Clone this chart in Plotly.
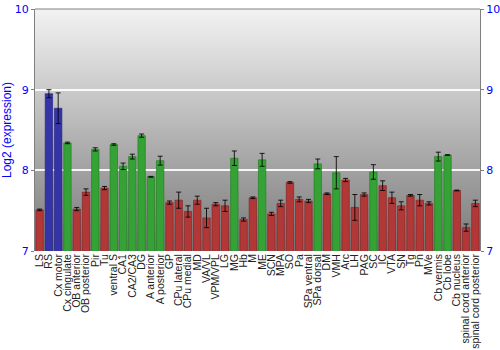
import plotly.graph_objects as go

categories = ["LS", "RS", "Cx motor", "Cx cingulate", "OB anterior", "OB posterior", "Pir", "Tu",
              "ventral S", "CA1", "CA2/CA3", "DG", "A anterior", "A posterior", "GP", "CPu lateral",
              "CPu medial", "MD", "VA/VL", "VPM/VPL", "LG", "MG", "Hb", "M", "ME", "SCN", "MPA", "SO",
              "Pa", "SPa ventral", "SPa dorsal", "DM", "VMH", "Arc", "LH", "PAG", "SC", "IC", "VTA",
              "SN", "Tg", "Pn", "MVe", "Cb vermis", "Cb lobe", "Cb nucleus", "spinal cord anterior",
              "spinal cord posterior"]
values = [7.51, 8.95, 8.77, 8.34, 7.52, 7.73, 8.26, 7.78,
          8.32, 8.05, 8.17, 8.43, 7.92, 8.12, 7.60, 7.63,
          7.49, 7.63, 7.41, 7.58, 7.56, 8.15, 7.39, 7.66, 8.13, 7.46, 7.59, 7.85,
          7.64, 7.62, 8.08, 7.71, 7.97, 7.88, 7.54, 7.70, 7.98, 7.81, 7.66,
          7.56, 7.69, 7.63, 7.59, 8.17, 8.19, 7.75, 7.29, 7.59]
errors = [0.01, 0.05, 0.19, 0.01, 0.02, 0.04, 0.02, 0.02,
          0.01, 0.04, 0.03, 0.02, 0.005, 0.055, 0.02, 0.10,
          0.07, 0.05, 0.12, 0.02, 0.07, 0.09, 0.02, 0.01, 0.08, 0.02, 0.04, 0.01,
          0.03, 0.02, 0.06, 0.01, 0.20, 0.02, 0.16, 0.02, 0.09, 0.06, 0.07,
          0.05, 0.01, 0.07, 0.02, 0.055, 0.003, 0.005, 0.045, 0.04]
groups = ["r", "b", "b", "g", "r", "r", "g", "r",
          "g", "g", "g", "g", "g", "g", "r", "r",
          "r", "r", "r", "r", "r", "g", "r", "r", "g", "r", "r", "r",
          "r", "r", "g", "r", "g", "r", "r", "r", "g", "r", "r",
          "r", "r", "r", "r", "g", "g", "r", "r", "r"]
y_ticks = [7, 8, 9, 10]

fill = {"r": "#b23838", "b": "#3434a8", "g": "#34a234"}
edge = {"r": "#7a2020", "b": "#20207a", "g": "#207a20"}

fig = go.Figure()
fig.add_trace(go.Bar(
    x=categories, y=values,
    marker=dict(color=[fill[g] for g in groups],
                line=dict(color=[edge[g] for g in groups], width=0.6)),
    error_y=dict(type="data", array=errors, color="rgba(0,0,0,0.85)", thickness=1, width=2.5),
    hoverinfo="x+y",
))
fig.add_trace(go.Scatter(x=categories, y=values, yaxis="y2", mode="markers",
                         marker=dict(opacity=0), showlegend=False, hoverinfo="skip"))

# gradient background
n = 120
shapes = []
for i in range(n):
    t = i / (n - 1)
    c = int(round(242 - (242 - 122) * t))
    shapes.append(dict(type="rect", xref="paper", yref="paper", x0=0, x1=1,
                       y0=max(0, 1 - (i + 1.6) / n), y1=1 - i / n, fillcolor=f"rgb({c},{c},{c})",
                       line=dict(width=0), layer="below"))
shapes.append(dict(type="line", xref="paper", yref="paper", x0=0, x1=1, y0=1, y1=1,
                   line=dict(color="#808080", width=1.2)))

axis_common = dict(range=[7, 10], tickvals=y_ticks, ticks="outside", ticklen=3,
                   tickcolor="#808080", tickfont=dict(color="#0000ff", size=11, family="DejaVu Sans"),
                   showline=True, linecolor="#808080", linewidth=1.2, automargin=False)

fig.update_layout(
    width=500, height=350,
    margin=dict(l=35, r=20, t=9, b=99),
    paper_bgcolor="white", plot_bgcolor="rgba(0,0,0,0)",
    showlegend=False, bargap=0.2,
    shapes=shapes,
    xaxis=dict(tickangle=-90, tickmode="array", tickvals=categories, ticktext=categories,
               range=[-0.5, len(categories) - 0.5],
               tickfont=dict(size=10.5, color="#222222", family="Liberation Sans"),
               showgrid=False, showline=False, ticks="", ticklen=0, automargin=False),
    yaxis=dict(title=dict(text="Log2 (expression)", font=dict(color="#0000ff", size=12, family="Liberation Sans"),
                          standoff=2),
               showgrid=True, gridcolor="rgba(255,255,255,0.9)", gridwidth=1.5, zeroline=False,
               **axis_common),
    yaxis2=dict(overlaying="y", side="right", showgrid=False, zeroline=False, **axis_common),
)

fig.write_html("out.html")
